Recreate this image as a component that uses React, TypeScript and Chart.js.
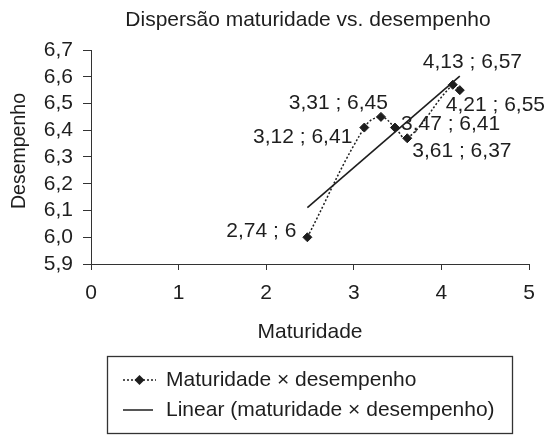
import React, { useEffect, useRef } from 'react';
import { Chart, registerables } from 'chart.js';

Chart.register(...registerables);

// ---- data ----
const maturidade = [2.47, 3.12, 3.31, 3.47, 3.61, 4.13, 4.21];
const desempenho = [6.0, 6.41, 6.45, 6.41, 6.37, 6.57, 6.55];
const pointLabels = ['2,74 ; 6', '3,12 ; 6,41', '3,31 ; 6,45', '3,47 ; 6,41', '3,61 ; 6,37', '4,13 ; 6,57', '4,21 ; 6,55'];
const xRange = [0, 5];
const yRange = [5.9, 6.7];
const titleText = 'Dispersão maturidade vs. desempenho';
const xTitle = 'Maturidade';
const yTitle = 'Desempenho';
const seriesName = 'Maturidade × desempenho';
const trendName = 'Linear (maturidade × desempenho)';

// ---- styles ----
const INK = '#1e1e1e';
const AXIS = '#333333';
const FAMILY = '"Liberation Sans", Arial, sans-serif';
const labelPlacement: { align: CanvasTextAlign; dx: number; dy: number }[] = [
  { align: 'right', dx: -11, dy: 0 },
  { align: 'right', dx: -12, dy: 15 },
  { align: 'right', dx: 7, dy: -8 },
  { align: 'left', dx: 6, dy: 2 },
  { align: 'left', dx: 5, dy: 19 },
  { align: 'left', dx: -30, dy: -17 },
  { align: 'left', dx: -14, dy: 21 },
];

function drawDiamond(ctx: CanvasRenderingContext2D, x: number, y: number, r: number) {
  ctx.beginPath();
  ctx.moveTo(x - r, y);
  ctx.lineTo(x, y - r);
  ctx.lineTo(x + r, y);
  ctx.lineTo(x, y + r);
  ctx.closePath();
  ctx.fill();
}

const decorPlugin = {
  id: 'decor',
  beforeDraw(chart: any) {
    const { ctx, width, height } = chart;
    ctx.save();
    ctx.fillStyle = '#ffffff';
    ctx.fillRect(0, 0, width, height);
    ctx.restore();
  },
  afterDatasetsDraw(chart: any) {
    const { ctx } = chart;
    const xs = chart.scales.x;
    const ys = chart.scales.y;
    ctx.save();
    ctx.fillStyle = INK;
    ctx.font = `21px ${FAMILY}`;
    ctx.textBaseline = 'alphabetic';
    pointLabels.forEach((txt, i) => {
      const px = xs.getPixelForValue(maturidade[i]);
      const py = ys.getPixelForValue(desempenho[i]);
      const p = labelPlacement[i];
      ctx.textAlign = p.align;
      ctx.fillText(txt, px + p.dx, py + p.dy);
    });
    ctx.restore();
  },
  afterDraw(chart: any) {
    const { ctx, chartArea } = chart;
    ctx.save();
    ctx.fillStyle = INK;
    // title
    ctx.font = `21px ${FAMILY}`;
    ctx.textAlign = 'center';
    ctx.textBaseline = 'alphabetic';
    ctx.fillText(titleText, 308, 26);
    // x title
    ctx.fillText(xTitle, (chartArea.left + chartArea.right) / 2, 338);
    // y title
    ctx.save();
    ctx.translate(25, 151);
    ctx.rotate(-Math.PI / 2);
    ctx.font = `19.5px ${FAMILY}`;
    ctx.textAlign = 'center';
    ctx.fillText(yTitle, 0, 0);
    ctx.restore();
    // legend box
    ctx.strokeStyle = AXIS;
    ctx.lineWidth = 1.3;
    ctx.strokeRect(107.5, 356.5, 405, 77);
    // entry 1
    ctx.strokeStyle = INK;
    ctx.lineWidth = 1.5;
    ctx.setLineDash([2, 2]);
    ctx.beginPath();
    ctx.moveTo(123, 380);
    ctx.lineTo(156, 380);
    ctx.stroke();
    ctx.setLineDash([]);
    drawDiamond(ctx, 139.5, 380, 5);
    ctx.font = `21px ${FAMILY}`;
    ctx.textAlign = 'left';
    ctx.fillText(seriesName, 166, 386);
    // entry 2
    ctx.beginPath();
    ctx.moveTo(123, 410);
    ctx.lineTo(153, 410);
    ctx.stroke();
    ctx.fillText(trendName, 166, 416);
    ctx.restore();
  },
};

export default function App() {
  const ref = useRef<HTMLCanvasElement>(null);

  useEffect(() => {
    const canvas = ref.current;
    if (!canvas) return;

    // least-squares trend line derived from the data
    const n = maturidade.length;
    const mx = maturidade.reduce((a, b) => a + b, 0) / n;
    const my = desempenho.reduce((a, b) => a + b, 0) / n;
    let sxy = 0;
    let sxx = 0;
    for (let i = 0; i < n; i++) {
      sxy += (maturidade[i] - mx) * (desempenho[i] - my);
      sxx += (maturidade[i] - mx) ** 2;
    }
    const slope = sxy / sxx;
    const icpt = my - slope * mx;
    const x0 = Math.min(...maturidade);
    const x1 = Math.max(...maturidade);

    const tickFont = { size: 21, family: FAMILY };

    const chart = new Chart(canvas, {
      type: 'scatter',
      data: {
        datasets: [
          {
            label: trendName,
            data: [
              { x: x0, y: icpt + slope * x0 },
              { x: x1, y: icpt + slope * x1 },
            ],
            showLine: true,
            borderColor: INK,
            borderWidth: 1.6,
            pointRadius: 0,
          },
          {
            label: seriesName,
            data: maturidade.map((x, i) => ({ x, y: desempenho[i] })),
            showLine: true,
            borderColor: INK,
            borderWidth: 1.5,
            borderDash: [2, 2],
            tension: 0.4,
            pointStyle: 'rectRot',
            pointRadius: 4.5,
            pointBackgroundColor: INK,
            pointBorderColor: INK,
            pointBorderWidth: 1,
          },
        ],
      },
      options: {
        animation: false,
        responsive: false,
        maintainAspectRatio: false,
        devicePixelRatio: 1,
        layout: { autoPadding: false, padding: { left: 0, top: 50, right: 20, bottom: 0 } },
        plugins: {
          legend: { display: false },
          title: { display: false },
          tooltip: { enabled: false },
        },
        scales: {
          x: {
            type: 'linear',
            min: xRange[0],
            max: xRange[1],
            ticks: {
              stepSize: 1,
              autoSkip: false,
              maxRotation: 0,
              font: tickFont,
              color: INK,
              padding: 11,
              callback: (v: any) => String(v),
            },
            grid: { drawOnChartArea: false, drawTicks: true, tickLength: 6, color: AXIS, lineWidth: 1 },
            border: { display: true, color: AXIS, width: 1 },
            afterFit: (s: any) => {
              s.height = 171;
            },
          },
          y: {
            type: 'linear',
            min: yRange[0],
            max: yRange[1],
            ticks: {
              stepSize: 0.1,
              autoSkip: false,
              font: tickFont,
              color: INK,
              padding: 10,
              callback: (v: any) => Number(v).toFixed(1).replace('.', ','),
            },
            grid: { drawOnChartArea: false, drawTicks: true, tickLength: 8, color: AXIS, lineWidth: 1 },
            border: { display: true, color: AXIS, width: 1 },
            afterFit: (s: any) => {
              s.width = 91;
            },
          },
        },
      },
      plugins: [decorPlugin],
    } as any);

    return () => chart.destroy();
  }, []);

  return (
    <div style={{ position: 'absolute', left: 0, top: 0, width: 549, height: 435, background: '#fff' }}>
      <canvas ref={ref} width={549} height={435} style={{ display: 'block', width: 549, height: 435 }} />
    </div>
  );
}
